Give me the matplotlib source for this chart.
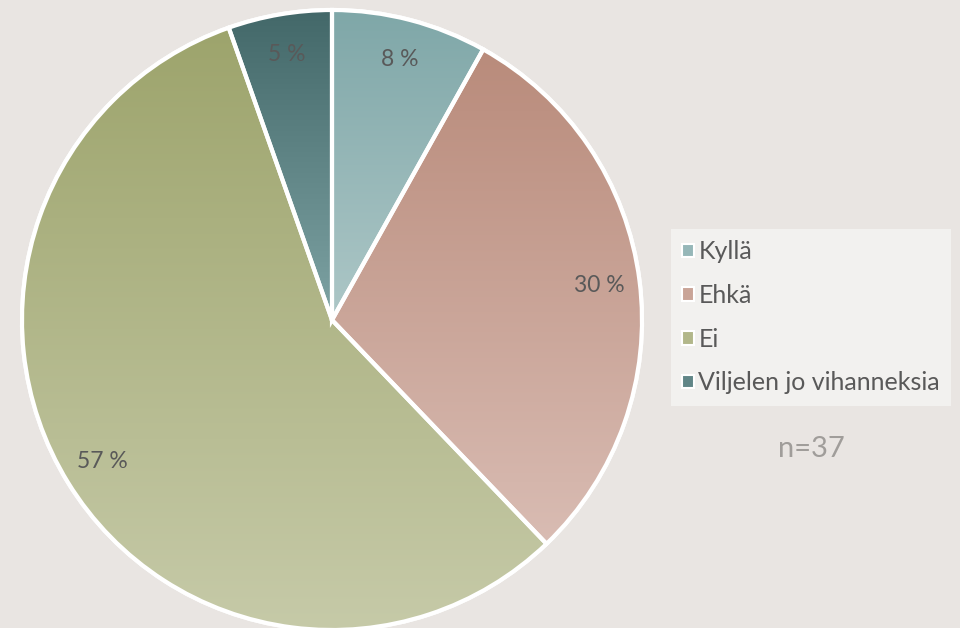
import numpy as np
import matplotlib.pyplot as plt
from matplotlib.colors import LinearSegmentedColormap
from matplotlib.patches import PathPatch

labels = ['Kyllä', 'Ehkä', 'Ei', 'Viljelen jo vihanneksia']
counts = [3, 11, 21, 2]
top_colors = ['#7fa7a8', '#b98b7b', '#9da46c', '#436869']
bottom_colors = ['#adc7c7', '#d9bcb3', '#c6caa8', '#7ea3a4']

bg = '#e9e5e2'
txt = '#595959'

plt.rcParams['font.family'] = ['Lato', 'DejaVu Sans']

fig = plt.figure(figsize=(9.6, 6.28), dpi=100, facecolor=bg)
ax = fig.add_axes([0, 0, 1, 1])
ax.set_facecolor(bg)

cx, cy, R = 332, 628 - 320, 310

mid = [LinearSegmentedColormap.from_list('m', [a, b])(0.5) for a, b in zip(top_colors, bottom_colors)]
wedges, texts, autotexts = ax.pie(
    counts, center=(cx, cy), radius=R, startangle=90, counterclock=False,
    colors=mid, autopct=lambda p: f'{p:.0f} %', pctdistance=0.87,
    wedgeprops=dict(edgecolor='white', linewidth=3),
    textprops=dict(color=txt, fontsize=16.5), frame=True)
ax.set_xlim(0, 960)
ax.set_ylim(0, 628)
ax.set_aspect('equal')
ax.axis('off')

# vertical gradient inside each wedge
for w, c0, c1 in zip(wedges, top_colors, bottom_colors):
    ext = w.get_path().get_extents()
    cmap = LinearSegmentedColormap.from_list('g', [c1, c0])
    grad = np.linspace(0, 1, 256).reshape(-1, 1)
    im = ax.imshow(grad, cmap=cmap, origin='lower', aspect='auto',
                   extent=[ext.x0, ext.x1, ext.y0, ext.y1], zorder=w.get_zorder() + 0.1)
    im.set_clip_path(w)
    ax.add_patch(PathPatch(w.get_path(), facecolor='none', edgecolor='white',
                           linewidth=3, zorder=w.get_zorder() + 0.2))

for t in autotexts:
    t.set_zorder(5)

leg = ax.legend(wedges, labels, loc='upper left', bbox_to_anchor=(671 / 960, 1 - 229 / 628),
                frameon=True, fontsize=18, labelcolor=txt, handlelength=0.45, handleheight=0.45,
                handletextpad=0.2, labelspacing=0.83, borderpad=0.45, borderaxespad=0,
                fancybox=False)
leg.get_frame().set_facecolor('#f2f1ef')
leg.get_frame().set_edgecolor('none')
leg.get_frame().set_alpha(1)
for h in leg.legend_handles:
    h.set_linewidth(1.5)

ax.text(811, 628 - 449, 'n=37', ha='center', va='center', fontsize=21, color='#a09d9a')

fig.savefig('out.png', dpi=100, facecolor=bg)
